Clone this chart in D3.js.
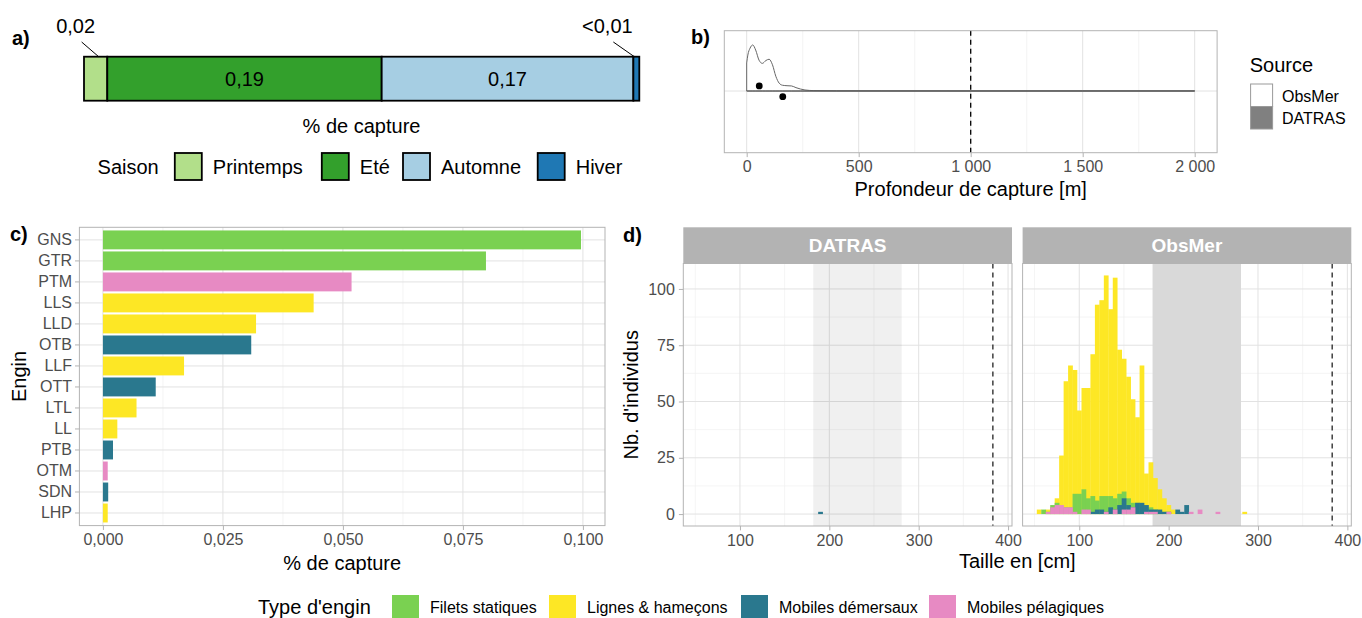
<!DOCTYPE html>
<html><head><meta charset="utf-8">
<script src="https://cdn.jsdelivr.net/npm/d3@7"></script>
<style>
body{margin:0;background:#fff}
svg{display:block}
text{font-family:"Liberation Sans",Arial,Helvetica,sans-serif}
</style>
</head><body>
<svg id="chart" width="1362" height="618"></svg>
<script>
// ---------------- DATA ----------------
// a) season shares
const seasons = ["Printemps", "Eté", "Automne", "Hiver"];
const seasonValues = [0.0161, 0.1897, 0.1740, 0.0041];
const seasonLabels = ["0,02", "0,19", "0,17", "<0,01"];
const seasonColors = ["#b2df8a", "#33a02c", "#a6cee3", "#1f78b4"];

// b) depth density (ObsMer) + point summaries
const depthTicks = [0, 500, 1000, 1500, 2000];
const depthMinor = [250, 750, 1250, 1750];
const densityDepth = [0, 5, 15, 27, 40, 55, 70, 85, 100, 115, 130, 145, 160, 180, 200, 220, 240, 260, 300, 400, 600, 1000, 1500, 2000];
const densityObsMer = [0.61, 0.78, 0.93, 1.0, 0.89, 0.67, 0.60, 0.66, 0.69, 0.57, 0.32, 0.17, 0.125, 0.115, 0.11, 0.073, 0.043, 0.022, 0.009, 0.004, 0.003, 0.002, 0.002, 0.002];
const pointDepth = [56, 161];
const pointOffset = [0.11, -0.124];
const depthLimit = 1000;
const sourceNames = ["ObsMer", "DATRAS"];
const sourceFills = ["#ffffff", "#808080"];

// c) catch share per gear
const gears = ["GNS", "GTR", "PTM", "LLS", "LLD", "OTB", "LLF", "OTT", "LTL", "LL", "PTB", "OTM", "SDN", "LHP"];
const gearValues = [0.0996, 0.0798, 0.0518, 0.0439, 0.0319, 0.0309, 0.0169, 0.0110, 0.0070, 0.0030, 0.0021, 0.0010, 0.0011, 0.0010];
const gearTypes = ["Filets statiques", "Filets statiques", "Mobiles pélagiques", "Lignes & hameçons", "Lignes & hameçons", "Mobiles démersaux", "Lignes & hameçons", "Mobiles démersaux", "Lignes & hameçons", "Lignes & hameçons", "Mobiles démersaux", "Mobiles pélagiques", "Mobiles démersaux", "Lignes & hameçons"];
const typeNames = ["Filets statiques", "Lignes & hameçons", "Mobiles démersaux", "Mobiles pélagiques"];
const typeColors = ["#7ad151", "#fde725", "#2a788e", "#e78ac3"];
const captureTicks = [0, 0.025, 0.05, 0.075, 0.1];

// d) length histograms (bin centres, 5 cm bins)
const sizeBins = [55, 60, 65, 70, 75, 80, 85, 90, 95, 100, 105, 110, 115, 120, 125, 130, 135, 140, 145, 150, 155, 160, 165, 170, 175, 180, 185, 190, 195, 200, 205, 210, 215, 220, 225, 230, 235, 240, 245, 250, 255, 260, 265, 270, 275, 280, 285];
const obsLignes   = [2, 0, 2, 3, 7, 26, 59, 66, 64, 46, 56, 56, 71, 93, 95, 106, 91, 105, 73, 69, 61, 51, 43, 66, 18, 23, 16, 11, 7, 4, 2, 1, 0, 0, 0, 0, 0, 0, 0, 0, 0, 0, 0, 0, 0, 0, 1];
const obsFilets   = [0, 2, 1, 4, 5, 3, 3, 3, 9, 9, 11, 7, 8, 6, 8, 8, 8, 7, 9, 10, 7, 5, 5, 4, 3, 3, 2, 1, 1, 0, 0, 0, 0, 0, 0, 0, 0, 0, 0, 0, 0, 0, 0, 0, 0, 0, 0];
const obsDemersaux= [0, 0, 0, 0, 0, 0, 0, 0, 0, 0, 0, 0, 1, 2, 2, 1, 3, 2, 4, 7, 4, 3, 5, 5, 4, 2, 2, 2, 1, 1, 0, 2, 1, 4, 0, 0, 0, 0, 0, 0, 0, 0, 0, 0, 0, 0, 0];
const obsPelagiques=[0, 0, 1, 3, 4, 4, 3, 3, 1, 0, 2, 2, 0, 0, 0, 1, 0, 2, 0, 2, 2, 3, 0, 0, 1, 1, 1, 0, 0, 1, 0, 0, 0, 0, 1, 0, 2, 0, 0, 0, 1, 0, 0, 0, 0, 0, 0];
const datrasBins = [190];
const datrasDemersaux = [1];
const sizeTicks = [100, 200, 300, 400];
const sizeMinor = [50, 150, 250, 350];
const countTicks = [0, 25, 50, 75, 100];
const countMinor = [12.5, 37.5, 62.5, 87.5];
const maturityRange = [182, 281];
const sizeLimit = 383;
const facets = ["DATRAS", "ObsMer"];

// ---------------- HELPERS ----------------
const svg = d3.select("#chart");
const fr = d3.formatLocale({decimal: ",", thousands: " ", grouping: [3], currency: ["", "€"]});
const GRID = "#e2e2e2", GRIDMIN = "#efefef", BORDER = "#b3b3b3", TICKTXT = "#4d4d4d";

function txt(x, y, s, opt = {}) {
  return svg.append("text").attr("x", x).attr("y", y).attr("dy", "0.35em")
    .attr("font-size", opt.size || 16).attr("fill", opt.fill || "#000")
    .attr("text-anchor", opt.anchor || "start").attr("font-weight", opt.weight || "normal")
    .text(s);
}
function styleAxis(ax) {
  ax.select(".domain").remove();
  ax.selectAll("line").attr("stroke", BORDER);
  ax.selectAll("text").attr("font-size", 16).attr("fill", TICKTXT).attr("font-family", "Liberation Sans, Arial, sans-serif");
}

// ---------------- PANEL a ----------------
{
  const x = d3.scaleLinear().domain([0, d3.sum(seasonValues)]).range([84, 639.3]);
  const y0 = 56.7, y1 = 100.7;
  const starts = d3.cumsum([0, ...seasonValues.slice(0, -1)]);
  const g = svg.append("g");
  g.selectAll("rect").data(seasons).join("rect")
    .attr("x", (d, i) => x(starts[i])).attr("y", y0)
    .attr("width", (d, i) => x(starts[i] + seasonValues[i]) - x(starts[i]))
    .attr("height", y1 - y0)
    .attr("fill", (d, i) => seasonColors[i]).attr("stroke", "#000").attr("stroke-width", 1.8);
  seasons.forEach((s, i) => {
    const cx = x(starts[i] + seasonValues[i] / 2);
    const w = x(starts[i] + seasonValues[i]) - x(starts[i]);
    if (w > 60) {
      txt(cx, (y0 + y1) / 2, seasonLabels[i], {size: 20, anchor: "middle"});
    } else {
      const dx = i === 0 ? -20 : -29;
      txt(cx + dx, 26, seasonLabels[i], {size: 20, anchor: "middle"});
      svg.append("line").attr("x1", cx + dx + 6).attr("y1", 42).attr("x2", cx + (i === 0 ? 3 : -2)).attr("y2", y0)
        .attr("stroke", "#000").attr("stroke-width", 1);
    }
  });
  txt(361.5, 126, "% de capture", {size: 20, anchor: "middle"});
  txt(12, 38, "a)", {size: 20, weight: "bold"});
  // legend
  txt(97.6, 166.5, "Saison", {size: 20});
  const keyX = [174.8, 321.8, 403, 537.7];
  seasons.forEach((s, i) => {
    svg.append("rect").attr("x", keyX[i]).attr("y", 153).attr("width", 27).attr("height", 27)
      .attr("fill", seasonColors[i]).attr("stroke", "#000").attr("stroke-width", 1.8);
    txt(keyX[i] + 38, 166.5, s, {size: 20});
  });
}

// ---------------- PANEL b ----------------
{
  const L = 724.3, R = 1217.1, T = 30.7, B = 152.7;
  const x = d3.scaleLinear().domain([-100, 2100]).range([L, R]);
  const y = d3.scaleLinear().domain([-1.34, 1.31]).range([B, T]);
  const g = svg.append("g");
  depthMinor.forEach(v => g.append("line").attr("x1", x(v)).attr("x2", x(v)).attr("y1", T).attr("y2", B).attr("stroke", GRIDMIN).attr("stroke-width", 0.7));
  depthTicks.forEach(v => g.append("line").attr("x1", x(v)).attr("x2", x(v)).attr("y1", T).attr("y2", B).attr("stroke", GRID).attr("stroke-width", 1));
  g.append("line").attr("x1", L).attr("x2", R).attr("y1", y(0)).attr("y2", y(0)).attr("stroke", GRID).attr("stroke-width", 1);
  const area = d3.area().x((d, i) => x(densityDepth[i])).y0(y(0)).y1(d => y(d)).curve(d3.curveMonotoneX);
  g.append("path").attr("d", area(densityObsMer)).attr("fill", sourceFills[0]).attr("stroke", "#666").attr("stroke-width", 1);
  g.append("line").attr("x1", x(0)).attr("x2", x(2000)).attr("y1", y(0)).attr("y2", y(0)).attr("stroke", "#555").attr("stroke-width", 1.2);
  g.append("line").attr("x1", x(depthLimit)).attr("x2", x(depthLimit)).attr("y1", T).attr("y2", B)
    .attr("stroke", "#000").attr("stroke-width", 1.3).attr("stroke-dasharray", "5,4");
  g.selectAll("circle").data(pointDepth).join("circle")
    .attr("cx", d => x(d)).attr("cy", (d, i) => y(pointOffset[i])).attr("r", 3.4).attr("fill", "#000");
  g.append("rect").attr("x", L).attr("y", T).attr("width", R - L).attr("height", B - T).attr("fill", "none").attr("stroke", BORDER).attr("stroke-width", 1);
  const ax = g.append("g").attr("transform", `translate(0,${B})`)
    .call(d3.axisBottom(x).tickValues(depthTicks).tickFormat(fr.format(",")).tickSize(4.4).tickPadding(4));
  styleAxis(ax);
  txt((L + R) / 2, 189, "Profondeur de capture [m]", {size: 20, anchor: "middle"});
  txt(691, 37, "b)", {size: 20, weight: "bold"});
  // legend
  txt(1249.7, 64.5, "Source", {size: 20});
  sourceNames.forEach((s, i) => {
    svg.append("rect").attr("x", 1250.6).attr("y", 84 + i * 22.5).attr("width", 22).attr("height", 22.5)
      .attr("fill", sourceFills[i]).attr("stroke", "#9a9a9a").attr("stroke-width", 1);
    txt(1282, 96 + i * 22, s, {size: 16});
  });
}

// ---------------- PANEL c ----------------
{
  const L = 79.4, R = 605, T = 227.3, B = 525.6;
  const x = d3.scaleLinear().domain([-0.0049, 0.1046]).range([L, R]);
  const y = d3.scaleBand().domain(gears).range([T, B]).paddingInner(0.1).paddingOuter(0.15);
  const g = svg.append("g");
  const minor = [0.0125, 0.0375, 0.0625, 0.0875];
  minor.forEach(v => g.append("line").attr("x1", x(v)).attr("x2", x(v)).attr("y1", T).attr("y2", B).attr("stroke", GRIDMIN).attr("stroke-width", 0.7));
  captureTicks.forEach(v => g.append("line").attr("x1", x(v)).attr("x2", x(v)).attr("y1", T).attr("y2", B).attr("stroke", GRID).attr("stroke-width", 1));
  gears.forEach(gg => g.append("line").attr("x1", L).attr("x2", R).attr("y1", y(gg) + y.bandwidth() / 2).attr("y2", y(gg) + y.bandwidth() / 2).attr("stroke", GRID).attr("stroke-width", 1));
  g.selectAll("rect.bar").data(gears).join("rect").attr("class", "bar")
    .attr("x", x(0)).attr("y", d => y(d))
    .attr("width", (d, i) => x(gearValues[i]) - x(0)).attr("height", y.bandwidth())
    .attr("fill", (d, i) => typeColors[typeNames.indexOf(gearTypes[i])]);
  g.append("rect").attr("x", L).attr("y", T).attr("width", R - L).attr("height", B - T).attr("fill", "none").attr("stroke", BORDER).attr("stroke-width", 1);
  const ax = g.append("g").attr("transform", `translate(0,${B})`)
    .call(d3.axisBottom(x).tickValues(captureTicks).tickFormat(fr.format(".3f")).tickSize(4.4).tickPadding(4));
  styleAxis(ax);
  const ay = g.append("g").attr("transform", `translate(${L},0)`)
    .call(d3.axisLeft(y).tickSize(4.4).tickPadding(3));
  styleAxis(ay);
  txt((L + R) / 2, 563, "% de capture", {size: 20, anchor: "middle"});
  svg.append("text").attr("transform", `translate(19,${(T + B) / 2}) rotate(-90)`).attr("dy", "0.35em")
    .attr("text-anchor", "middle").attr("font-size", 20).text("Engin");
  txt(10, 234, "c)", {size: 20, weight: "bold"});
}

// ---------------- PANEL d ----------------
{
  const T = 263.5, B = 526, ST = 227.3;
  const lefts = [683.3, 1022.6], W = 328.7;
  const y = d3.scaleLinear().domain([-5.3, 111.3]).range([B, T]);
  const binW = 5;
  facets.forEach((f, fi) => {
    const L = lefts[fi], R = L + W;
    const x = d3.scaleLinear().domain([36.6, 404.4]).range([L, R]);
    const g = svg.append("g");
    g.append("rect").attr("x", L).attr("y", ST).attr("width", W).attr("height", T - ST).attr("fill", "#b3b3b3");
    txt((L + R) / 2, (ST + T) / 2, f, {size: 19, weight: "bold", fill: "#fff", anchor: "middle"});
    countMinor.forEach(v => g.append("line").attr("x1", L).attr("x2", R).attr("y1", y(v)).attr("y2", y(v)).attr("stroke", GRIDMIN).attr("stroke-width", 0.7));
    sizeMinor.forEach(v => g.append("line").attr("x1", x(v)).attr("x2", x(v)).attr("y1", T).attr("y2", B).attr("stroke", GRIDMIN).attr("stroke-width", 0.7));
    countTicks.forEach(v => g.append("line").attr("x1", L).attr("x2", R).attr("y1", y(v)).attr("y2", y(v)).attr("stroke", GRID).attr("stroke-width", 1));
    sizeTicks.forEach(v => g.append("line").attr("x1", x(v)).attr("x2", x(v)).attr("y1", T).attr("y2", B).attr("stroke", GRID).attr("stroke-width", 1));
    const shade = g.append("rect").attr("x", x(maturityRange[0])).attr("y", T).attr("width", x(maturityRange[1]) - x(maturityRange[0])).attr("height", B - T);
    if (fi === 0) shade.attr("fill", "#000").attr("fill-opacity", 0.06);
    else shade.attr("fill", "#d9d9d9");
    const series = fi === 0
      ? [{bins: datrasBins, vals: datrasDemersaux, col: typeColors[2]}]
      : [{bins: sizeBins, vals: obsLignes, col: typeColors[1]},
         {bins: sizeBins, vals: obsFilets, col: typeColors[0]},
         {bins: sizeBins, vals: obsDemersaux, col: typeColors[2]},
         {bins: sizeBins, vals: obsPelagiques, col: typeColors[3]}];
    series.forEach(s => {
      const data = s.bins.map((b, i) => ({b, v: s.vals[i]})).filter(d => d.v > 0);
      g.append("g").selectAll("rect").data(data).join("rect")
        .attr("x", d => x(d.b - binW / 2)).attr("width", d => x(d.b + binW / 2) - x(d.b - binW / 2) + 0.3)
        .attr("y", d => y(d.v)).attr("height", d => y(0) - y(d.v)).attr("fill", s.col);
    });
    g.append("line").attr("x1", x(sizeLimit)).attr("x2", x(sizeLimit)).attr("y1", T).attr("y2", B)
      .attr("stroke", "#222").attr("stroke-width", 1.3).attr("stroke-dasharray", "5,4");
    g.append("rect").attr("x", L).attr("y", T).attr("width", W).attr("height", B - T).attr("fill", "none").attr("stroke", BORDER).attr("stroke-width", 1);
    const ax = g.append("g").attr("transform", `translate(0,${B})`)
      .call(d3.axisBottom(x).tickValues(sizeTicks).tickFormat(d3.format("d")).tickSize(4.4).tickPadding(4));
    styleAxis(ax);
    if (fi === 0) {
      const ay = g.append("g").attr("transform", `translate(${L},0)`)
        .call(d3.axisLeft(y).tickValues(countTicks).tickFormat(d3.format("d")).tickSize(4.4).tickPadding(4));
      styleAxis(ay);
    }
  });
  txt((lefts[0] + lefts[1] + W) / 2, 561, "Taille en [cm]", {size: 20, anchor: "middle"});
  svg.append("text").attr("transform", `translate(631,${(T + B) / 2}) rotate(-90)`).attr("dy", "0.35em")
    .attr("text-anchor", "middle").attr("font-size", 20).text("Nb. d'individus");
  txt(623, 235, "d)", {size: 20, weight: "bold"});
}

// ---------------- bottom legend ----------------
{
  txt(258, 607, "Type d'engin", {size: 20});
  const keyX = [392, 549, 741, 929];
  typeNames.forEach((t, i) => {
    svg.append("rect").attr("x", keyX[i]).attr("y", 595).attr("width", 27).attr("height", 27).attr("fill", typeColors[i]);
    txt(keyX[i] + 38, 607, t, {size: 16});
  });
}
</script>
</body></html>
